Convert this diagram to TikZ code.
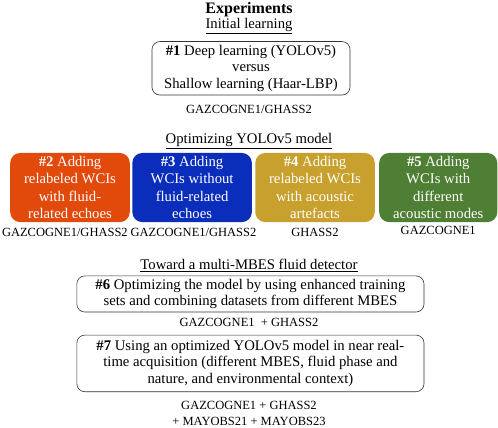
\documentclass[tikz,border=0pt]{standalone}
\usepackage{fontspec}
\setmainfont{Liberation Serif}
\usepackage{tikz}
\definecolor{corange}{HTML}{E24A0C}
\definecolor{cblue}{HTML}{0B2DBB}
\definecolor{cgold}{HTML}{C8A02E}
\definecolor{cgreen}{HTML}{4E7F34}
\usetikzlibrary{positioning}

\begin{document}
\begin{tikzpicture}
    \tikzset{wbox/.style={
      rectangle,
      draw=black!80,
      line width=.6pt,
      rounded corners=8pt,
      inner sep=0pt,
      align=center,
      font=\fontsize{14.7}{16.6}\selectfont},
      cbox/.style={
      rectangle,
      rounded corners=10pt,
      inner sep=0pt,
      minimum width=4.2cm,
      minimum height=2.43cm,
      text=white,
      align=center,
      font=\fontsize{14.7}{17.3}\selectfont},
      head/.style={anchor=base, inner sep=0pt, font=\fontsize{14.7}{16.8}\selectfont},
      lbl/.style={anchor=north, align=center, inner sep=0pt, font=\fontsize{12.5}{16}\selectfont}}
    \useasboundingbox (-8.75, 0) rectangle (8.75, -15.04);

    \node[head, font=\fontsize{16}{18}\selectfont\bfseries] at (0, -0.47) (0) {Experiments};
    \node[head] at (0, -1.0) (1) {\underline{Initial learning}};
    \node[wbox, minimum width=6.96cm, minimum height=1.88cm] at (0.07, -2.40) (2) {\textbf{\#1} Deep learning (YOLOv5)\\ versus\\ Shallow learning (Haar-LBP)};
    \node[lbl] at (0, -3.69) (3) {GAZCOGNE1/GHASS2};

    \node[head] at (0, -5.06) (4) {\underline{Optimizing YOLOv5 model}};
    \node[cbox, fill=corange] at (-6.29, -6.59) (5) {\textbf{\#2} Adding\\ relabeled WCIs\\ with fluid-\\ related echoes};
    \node[cbox, fill=cblue] at (-2.0, -6.59) (6) {\textbf{\#3} Adding\\ WCIs without\\ fluid-related\\ echoes};
    \node[cbox, fill=cgold] at (2.32, -6.59) (7) {\textbf{\#4} Adding\\ relabeled WCIs\\ with acoustic\\ artefacts};
    \node[cbox, fill=cgreen, minimum width=4.15cm] at (6.65, -6.59) (8) {\textbf{\#5} Adding\\ WCIs with\\ different\\ acoustic modes};
    \node[lbl] at (-6.47, -8.0) (9) {GAZCOGNE1/GHASS2};
    \node[lbl] at (-1.95, -8.0) (10) {GAZCOGNE1/GHASS2};
    \node[lbl] at (2.32, -8.0) (11) {GHASS2};
    \node[lbl] at (6.65, -7.95) (12) {GAZCOGNE1};

    \node[head] at (0, -9.46) (13) {\underline{Toward a multi-MBES fluid detector}};
    \node[wbox, minimum width=12.2cm, minimum height=1.27cm] at (0.05, -10.33) (14) {\textbf{\#6} Optimizing the model by using enhanced training\\ sets and combining datasets from different MBES};
    \node[lbl] at (0, -11.17) (15) {GAZCOGNE1 \ + GHASS2};
    \node[wbox, minimum width=12.2cm, minimum height=1.99cm] at (0.05, -12.77) (16) {\textbf{\#7} Using an optimized YOLOv5 model in near real-\\ time acquisition (different MBES, fluid phase and\\ nature, and environmental context)};
    \node[lbl] at (0, -14.10) (17) {GAZCOGNE1 + GHASS2\\ + MAYOBS21 + MAYOBS23};
  \end{tikzpicture}
\end{document}
